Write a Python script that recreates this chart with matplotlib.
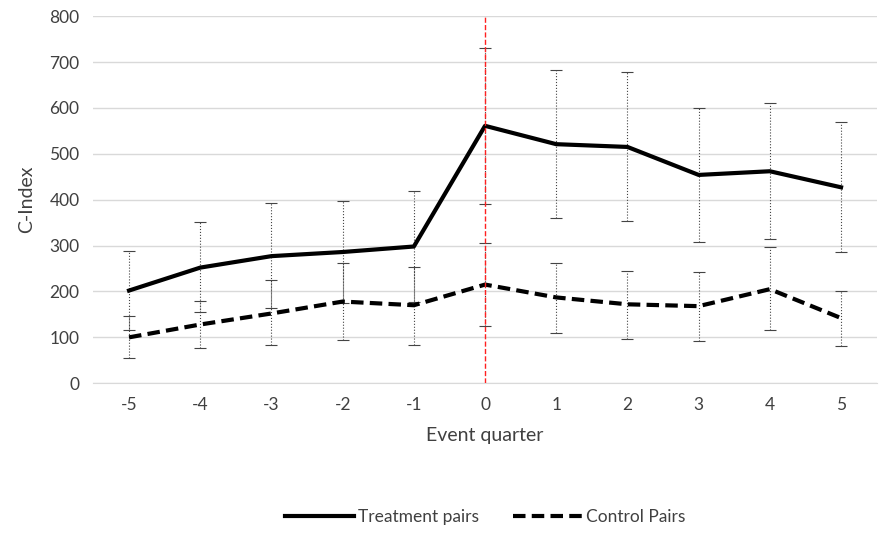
import numpy as np
import matplotlib.pyplot as plt

quarters = [-5, -4, -3, -2, -1, 0, 1, 2, 3, 4, 5]
treat = [202, 252, 277, 286, 298, 561, 521, 515, 454, 462, 427]
treat_hi = [289, 351, 392, 398, 420, 730, 682, 678, 600, 610, 570]
treat_lo = [117, 155, 163, 175, 176, 391, 360, 353, 308, 315, 285]
ctrl = [100, 128, 152, 178, 170, 215, 187, 172, 168, 205, 142]
ctrl_hi = [147, 180, 224, 262, 253, 305, 262, 245, 243, 297, 202]
ctrl_lo = [54, 77, 84, 95, 84, 125, 110, 97, 93, 115, 82]

plt.rcParams['font.family'] = ['Lato', 'DejaVu Sans']
fig, ax = plt.subplots(figsize=(8.9, 5.39), dpi=100)
fig.subplots_adjust(left=0.105, right=0.985, top=0.97, bottom=0.289)

x = np.arange(len(quarters))
t = np.array(treat); c = np.array(ctrl)
for y, hi, lo, ls, lab in [(t, treat_hi, treat_lo, '-', 'Treatment pairs'),
                           (c, ctrl_hi, ctrl_lo, (0, (3, 1.5)), 'Control Pairs')]:
    ax.plot(x, y, color='black', lw=3, ls=ls, label=lab, zorder=3)
    eb = ax.errorbar(x, y, yerr=[y - np.array(lo), np.array(hi) - y], fmt='none',
                     ecolor='#444444', elinewidth=0.8, capsize=4, capthick=0.8, zorder=2)
    eb[2][0].set_linestyle(':')

ax.axvline(5, color='#ff2020', ls='--', lw=1, zorder=4)
ax.set_xlim(-0.5, len(quarters) - 0.5)
ax.set_ylim(0, 800)
ax.set_yticks(range(0, 801, 100))
ax.set_xticks(x)
ax.set_xticklabels([str(q) for q in quarters])
ax.grid(axis='y', color='#d9d9d9', lw=1)
ax.set_axisbelow(True)
for s in ['top', 'right', 'left']:
    ax.spines[s].set_visible(False)
ax.spines['bottom'].set_color('#d9d9d9')
ax.tick_params(length=0, labelsize=12.5, colors='#404040', pad=10)
ax.set_xlabel('Event quarter', fontsize=14, color='#404040', labelpad=10)
ax.set_ylabel('C-Index', fontsize=14, color='#404040', labelpad=10)
ax.legend(loc='upper center', bbox_to_anchor=(0.5, -0.3), ncol=2, frameon=False,
          fontsize=12.5, handlelength=4, handletextpad=0.2, columnspacing=2,
          labelcolor='#404040')
fig.savefig('out.png')
